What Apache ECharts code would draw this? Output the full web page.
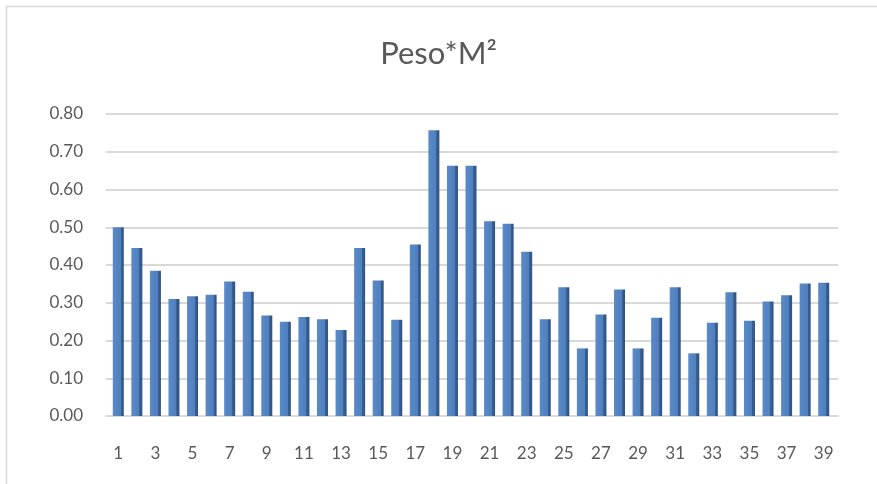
<!DOCTYPE html>
<html>
<head>
<meta charset="utf-8">
<script src="https://cdn.jsdelivr.net/npm/echarts@6/dist/echarts.min.js"></script>
<style>
  html, body { margin: 0; padding: 0; background: #fff; }
  #chart { width: 877px; height: 484px; }
</style>
</head>
<body>
<div id="chart"></div>
<script>
// values
var categories = []
for (var i = 1; i <= 39; i++) categories.push(String(i))

var pesoM2 = [
  0.50, 0.445, 0.385, 0.31, 0.317, 0.321, 0.356, 0.329, 0.266, 0.25,
  0.262, 0.256, 0.228, 0.445, 0.359, 0.255, 0.454, 0.757, 0.663, 0.663,
  0.516, 0.509, 0.435, 0.256, 0.341, 0.179, 0.269, 0.335, 0.179, 0.26,
  0.341, 0.166, 0.247, 0.328, 0.252, 0.303, 0.32, 0.351, 0.353
]

var chart = echarts.init(document.getElementById('chart'))

var barColor = new echarts.graphic.LinearGradient(0, 0, 1, 0, [
  { offset: 0, color: '#5a8bc8' },
  { offset: 0.72, color: '#4f7fbc' },
  { offset: 0.72, color: '#3a6397' },
  { offset: 1, color: '#2e5080' }
])

var option = {
  backgroundColor: '#fff',
  animation: false,
  textStyle: { fontFamily: 'Lato' },
  title: {
    text: 'Peso*M²',
    left: 'center',
    top: 33,
    textStyle: {
      color: '#595959',
      fontSize: 31,
      fontWeight: 'normal',
      fontFamily: 'Lato'
    }
  },
  graphic: [{
    type: 'rect',
    shape: { x: 6.5, y: 6.5, width: 900, height: 500 },
    style: { fill: 'none', stroke: '#d9d9d9', lineWidth: 1.5 },
    silent: true
  }],
  // grid 0: back wall with gridlines, grid 1: bars
  grid: [
    { left: 106, right: 39, top: 114, bottom: 68 },
    { left: 109, right: 44, top: 114, bottom: 68 }
  ],
  xAxis: [{
    type: 'category',
    gridIndex: 0,
    data: categories,
    axisTick: { show: false },
    axisLabel: { show: false },
    axisLine: { lineStyle: { color: '#d9d9d9', width: 2 } }
  }, {
    type: 'category',
    gridIndex: 1,
    data: categories,
    axisTick: { show: false },
    axisLine: { show: false },
    axisLabel: {
      interval: 1,
      color: '#595959',
      fontSize: 17,
      margin: 29
    }
  }],
  yAxis: [{
    type: 'value',
    gridIndex: 0,
    min: 0,
    max: 0.8,
    interval: 0.1,
    axisLine: { show: false },
    axisTick: { show: false },
    splitLine: { lineStyle: { color: '#d9d9d9', width: 2 } },
    axisLabel: {
      color: '#595959',
      fontSize: 17,
      margin: 23,
      formatter: function (v) { return v.toFixed(2) }
    }
  }, {
    type: 'value',
    gridIndex: 1,
    min: 0,
    max: 0.8,
    interval: 0.1,
    show: false,
    splitLine: { show: false }
  }],
  series: [{
    type: 'bar',
    xAxisIndex: 1,
    yAxisIndex: 1,
    data: pesoM2,
    barWidth: 11,
    itemStyle: {
      color: barColor
    }
  }]
}

chart.setOption(option)
</script>
</body>
</html>
